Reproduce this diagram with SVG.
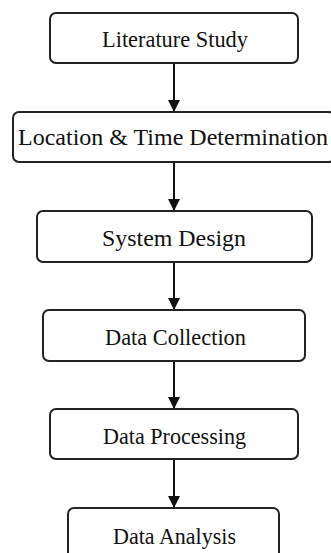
<svg xmlns="http://www.w3.org/2000/svg" width="331" height="553" viewBox="0 0 331 553">
<style>
.box{fill:#fff;stroke:#222;stroke-width:2}
.lbl{font-family:"Liberation Serif","Times New Roman",serif;font-size:23px;fill:#111}
.conn{stroke:#111;stroke-width:2;fill:none}
</style>
<defs>
<marker id="ah" markerWidth="6" markerHeight="6" refX="6" refY="3" orient="auto" markerUnits="strokeWidth">
<path d="M0,0 L6,3 L0,6 Z" fill="#111"/>
</marker>
</defs>
<rect width="331" height="553" fill="#fff"/>
<g id="connectors">
<line class="conn" x1="174" y1="63" x2="174" y2="112" marker-end="url(#ah)"/>
<line class="conn" x1="174" y1="162" x2="174" y2="211" marker-end="url(#ah)"/>
<line class="conn" x1="174" y1="262" x2="174" y2="310" marker-end="url(#ah)"/>
<line class="conn" x1="174" y1="361" x2="174" y2="409" marker-end="url(#ah)"/>
<line class="conn" x1="174" y1="459" x2="174" y2="508" marker-end="url(#ah)"/>
</g>
<g id="n1"><rect class="box" x="50" y="13" width="248" height="50" rx="6"/><text class="lbl" x="102" y="46.5" textLength="146" lengthAdjust="spacingAndGlyphs">Literature Study</text></g>
<g id="n2"><rect class="box" x="13" y="112" width="322" height="50" rx="6"/><text class="lbl" x="18" y="145" textLength="310" lengthAdjust="spacingAndGlyphs">Location &amp; Time Determination</text></g>
<g id="n3"><rect class="box" x="37" y="211" width="275" height="51" rx="6"/><text class="lbl" x="102" y="245.5" textLength="144" lengthAdjust="spacingAndGlyphs">System Design</text></g>
<g id="n4"><rect class="box" x="43" y="310" width="262" height="51" rx="6"/><text class="lbl" x="105" y="345" textLength="141" lengthAdjust="spacingAndGlyphs">Data Collection</text></g>
<g id="n5"><rect class="box" x="50" y="409" width="248" height="50" rx="6"/><text class="lbl" x="103" y="443.5" textLength="143" lengthAdjust="spacingAndGlyphs">Data Processing</text></g>
<g id="n6"><rect class="box" x="68" y="508" width="211" height="60" rx="6"/><text class="lbl" x="113" y="543.5" textLength="123" lengthAdjust="spacingAndGlyphs">Data Analysis</text></g>
</svg>
